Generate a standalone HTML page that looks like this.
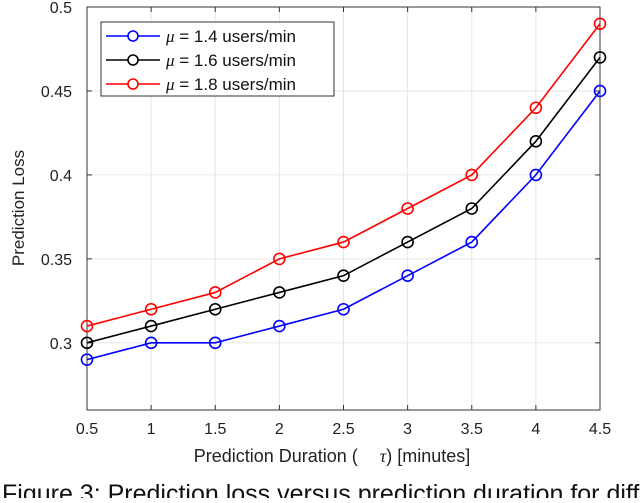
<!DOCTYPE html>
<html><head><meta charset="utf-8"><style>
body{margin:0;background:#fff;width:640px;height:498px;overflow:hidden}
svg text{font-family:"Liberation Sans",sans-serif}
</style></head><body>
<svg id="chart" width="640" height="498" xmlns="http://www.w3.org/2000/svg">
<g id="grid"></g>
<g id="axes"></g>
<g id="series"></g>
<text transform="translate(24,208) rotate(-90)" text-anchor="middle" font-size="17" fill="#222">Prediction Loss</text>
<text x="332" y="462" text-anchor="middle" font-size="18" fill="#222">Prediction Duration (<tspan font-style="italic" font-family="Liberation Serif" dx="22">τ</tspan>) [minutes]</text>
<g>
<rect x="101" y="22" width="233" height="74" fill="#fff" stroke="#333" stroke-width="1"/>
<g id="legend-entries"></g>
</g>
<text x="2" y="502" font-family="Liberation Serif" font-size="25" fill="#111">Figure 3: Prediction loss versus prediction duration for different</text>
</svg>
<script>
const categories=[0.5,1,1.5,2,2.5,3,3.5,4,4.5];
const seriesNames=["1.4","1.6","1.8"];
const blueValues=[0.29,0.30,0.30,0.31,0.32,0.34,0.36,0.40,0.45];
const blackValues=[0.30,0.31,0.32,0.33,0.34,0.36,0.38,0.42,0.47];
const redValues=[0.31,0.32,0.33,0.35,0.36,0.38,0.40,0.44,0.49];
const xTicks=["0.5","1","1.5","2","2.5","3","3.5","4","4.5"];
const yTicks=["0.3","0.35","0.4","0.45","0.5"];
const NS="http://www.w3.org/2000/svg";
const L=87,R=600,T=7,B=410,YMIN=0.26,YMAX=0.5;
const xs=v=>L+(v-0.5)/(4.5-0.5)*(R-L);
const ys=v=>B-(v-YMIN)/(YMAX-YMIN)*(B-T);
function mk(tag,attrs,parent){const e=document.createElementNS(NS,tag);for(const k in attrs)e.setAttribute(k,attrs[k]);parent.appendChild(e);return e;}
const grid=document.getElementById('grid'),axes=document.getElementById('axes'),ser=document.getElementById('series');
xTicks.forEach(t=>{const x=xs(+t);
 const g=mk('line',{x1:x,x2:x,y1:T,y2:B,stroke:'#e6e6e6'},grid);
 
 
 mk('line',{x1:x,x2:x,y1:B,y2:B-5,stroke:'#333'},axes);
 mk('line',{x1:x,x2:x,y1:T,y2:T+5,stroke:'#333'},axes);
 const tx=mk('text',{x:x,y:B+24,'text-anchor':'middle','font-size':'16',fill:'#222'},axes);tx.textContent=t;
 
 
});
yTicks.forEach(t=>{const y=ys(+t);
 const g=mk('line',{x1:L,x2:R,y1:y,y2:y,stroke:'#e6e6e6'},grid);
 
 
 mk('line',{x1:L,x2:L+5,y1:y,y2:y,stroke:'#333'},axes);
 mk('line',{x1:R,x2:R-5,y1:y,y2:y,stroke:'#333'},axes);
 const tx=mk('text',{x:L-15,y:y+6,'text-anchor':'end','font-size':'16',fill:'#222'},axes);tx.textContent=t;
 
 
});
mk('rect',{x:L,y:T,width:R-L,height:B-T,fill:'none',stroke:'#333'},axes);
const all=[blueValues,blackValues,redValues],cols=['#0000ff','#000000','#ff0000'];
all.forEach((vals,i)=>{
 const p=mk('polyline',{points:vals.map((v,j)=>xs(categories[j])+','+ys(v)).join(' '),fill:'none',stroke:cols[i],'stroke-width':'1.6'},ser);
 
 
 vals.forEach((v,j)=>{const c=mk('circle',{cx:xs(categories[j]),cy:ys(v),r:5.5,fill:'none',stroke:cols[i],'stroke-width':'1.6'},ser);
  
  });
});
const le=document.getElementById('legend-entries');
seriesNames.forEach((n,i)=>{const y=36+i*24;
 mk('line',{x1:106,x2:160,y1:y,y2:y,stroke:cols[i],'stroke-width':'1.6'},le);
 mk('circle',{cx:133,cy:y,r:5,fill:'#fff',stroke:cols[i],'stroke-width':'1.6'},le);
 const t=mk('text',{x:166,y:y+6,'font-size':'17',fill:'#111'},le);
 t.innerHTML='<tspan font-style="italic" font-family="Liberation Serif">μ</tspan> = '+n+' users/min';
 
 
});
</script>
</body></html>
